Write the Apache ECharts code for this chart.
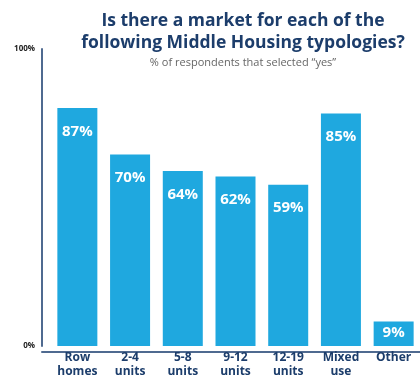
<!DOCTYPE html>
<html>
<head>
<meta charset="utf-8">
<script src="https://cdn.jsdelivr.net/npm/echarts@6/dist/echarts.min.js"></script>
<style>
  html, body { margin: 0; padding: 0; background: #fff; }
  #chart { width: 420px; height: 379px; }
</style>
</head>
<body>
<div id="chart"></div>
<script>
    var categories = ['Row\nhomes', '2-4\nunits', '5-8\nunits', '9-12\nunits', '12-19\nunits', 'Mixed\nuse', 'Other'];
    var yesShare = [87, 70, 64, 62, 59, 85, 9];
    // the printed axis top ("100%") sits above where 100 really falls
    var axisTop = 108.6;
    var tickLabels = {0: '0%', top: '100%'};

    var chart = echarts.init(document.getElementById('chart'));
    var navy = '#1c3d6b';
    var axisColor = '#4f6a90';

    var data = yesShare.map(function (v, i) {
        // the short last bar keeps its label closer to the top
        if (v < 20) {
            return {value: v, label: {distance: 4}};
        }
        return v;
    });

    var option = {
        animation: false,
        title: {
            left: 238,
            top: 5,
            textAlign: 'center',
            text: 'Is there a market for each of the\nfollowing Middle Housing typologies?',
            subtext: '% of respondents that selected \u201cyes\u201d',
            itemGap: 3,
            textStyle: {
                fontFamily: 'Open Sans',
                fontWeight: 'bold',
                fontSize: 17.5,
                lineHeight: 22,
                color: navy
            },
            subtextStyle: {
                fontFamily: 'Open Sans',
                fontSize: 11,
                lineHeight: 12,
                color: '#666'
            }
        },
        grid: [
            {left: 51, width: 374.5, top: 49, bottom: 27},
            {left: 42, right: 0, top: 49, bottom: 27}
        ],
        xAxis: [
            {
                type: 'category',
                data: categories,
                gridIndex: 0,
                axisLine: {show: false},
                axisTick: {show: false},
                axisLabel: {
                    margin: 5,
                    interval: 0,
                    fontFamily: 'Open Sans',
                    fontWeight: 'bold',
                    fontSize: 12,
                    lineHeight: 14,
                    color: navy
                }
            },
            {
                type: 'value',
                gridIndex: 1,
                axisLine: {show: true, lineStyle: {color: axisColor, width: 2}},
                axisTick: {show: false},
                axisLabel: {show: false},
                splitLine: {show: false}
            }
        ],
        yAxis: [
            {
                type: 'value',
                gridIndex: 0,
                min: 0,
                max: axisTop,
                interval: axisTop,
                offset: 9,
                axisLine: {show: true, lineStyle: {color: axisColor, width: 2}},
                axisTick: {show: false},
                splitLine: {show: false},
                axisLabel: {
                    margin: 7,
                    fontFamily: 'Open Sans',
                    fontWeight: 'bold',
                    fontSize: 8,
                    color: '#222',
                    formatter: function (v) {
                        return v === 0 ? tickLabels[0] : tickLabels.top;
                    }
                }
            },
            {type: 'value', gridIndex: 1, show: false}
        ],
        series: [
            {
                type: 'bar',
                xAxisIndex: 0,
                yAxisIndex: 0,
                data: data,
                barWidth: 40,
                itemStyle: {color: '#1fa8df'},
                label: {
                    show: true,
                    position: 'insideTop',
                    distance: 16,
                    formatter: '{c}%',
                    fontFamily: 'Open Sans',
                    fontWeight: 'bold',
                    fontSize: 15,
                    color: '#fff'
                }
            }
        ]
    };
    chart.setOption(option);
</script>
</body>
</html>
